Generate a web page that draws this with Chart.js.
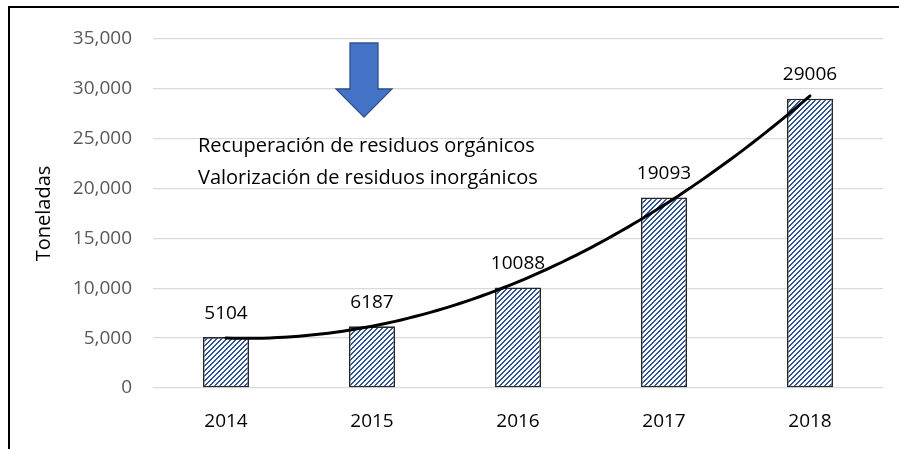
<!DOCTYPE html>
<html>
<head>
<meta charset="utf-8">
<script src="https://cdn.jsdelivr.net/npm/chart.js@4.4.1/dist/chart.umd.min.js"></script>
<style>
  body { margin: 0; background: #fff; }
  canvas { display: block; }
</style>
</head>
<body>
<canvas id="myChart" width="899" height="449"></canvas>
<script>
const years = ['2014', '2015', '2016', '2017', '2018'];
const tonnes = [5104, 6187, 10088, 19093, 29006];
const yTicks = [0, 5000, 10000, 15000, 20000, 25000, 30000, 35000];
const notes = ['Recuperación de residuos orgánicos', 'Valorización de residuos inorgánicos'];

const FONT = "'Open Sans', 'Noto Sans', sans-serif";

// "/" stripes like the Excel wide upward diagonal pattern fill
function hatch() {
  const n = 5;
  const c = document.createElement('canvas');
  c.width = n;
  c.height = n;
  const g = c.getContext('2d');
  g.fillStyle = '#fff';
  g.fillRect(0, 0, n, n);
  g.fillStyle = '#2f5597';
  for (let i = 0; i < n; i++) {
    g.fillRect(i, n - 1 - i, 1, 1);
    g.fillRect((i + 1) % n, n - 1 - i, 1, 1);
  }
  return g.createPattern(c, 'repeat');
}

// least squares quadratic through the bar values (Excel polynomial trendline)
function quadFit(ys) {
  let s = [0, 0, 0, 0, 0], t = [0, 0, 0];
  ys.forEach((y, x) => {
    for (let k = 0; k < 5; k++) s[k] += Math.pow(x, k);
    for (let k = 0; k < 3; k++) t[k] += Math.pow(x, k) * y;
  });
  const m = [[s[0], s[1], s[2], t[0]], [s[1], s[2], s[3], t[1]], [s[2], s[3], s[4], t[2]]];
  for (let i = 0; i < 3; i++) {
    for (let j = i + 1; j < 3; j++) {
      const f = m[j][i] / m[i][i];
      for (let k = i; k < 4; k++) m[j][k] -= f * m[i][k];
    }
  }
  const c = [0, 0, 0];
  for (let i = 2; i >= 0; i--) {
    let v = m[i][3];
    for (let k = i + 1; k < 3; k++) v -= m[i][k] * c[k];
    c[i] = v / m[i][i];
  }
  return c;
}

const decor = {
  id: 'decor',
  beforeDatasetsDraw(chart) {
    const { ctx } = chart;
    ctx.save();
    // text box
    ctx.fillStyle = '#fff';
    ctx.fillRect(196, 139, 366, 48);
    ctx.fillStyle = '#000';
    ctx.font = '20px ' + FONT;
    ctx.textBaseline = 'middle';
    ctx.textAlign = 'left';
    ctx.fillText(notes[0], 198, 146);
    ctx.fillText(notes[1], 198, 178);
    // arrow
    ctx.beginPath();
    ctx.moveTo(350, 43);
    ctx.lineTo(378, 43);
    ctx.lineTo(378, 89);
    ctx.lineTo(392, 89);
    ctx.lineTo(364, 117);
    ctx.lineTo(336, 89);
    ctx.lineTo(350, 89);
    ctx.closePath();
    ctx.fillStyle = '#4472c4';
    ctx.fill();
    ctx.strokeStyle = '#2f528f';
    ctx.lineWidth = 1.3;
    ctx.stroke();
    ctx.restore();
  },
  afterDatasetsDraw(chart) {
    const { ctx, scales: { x, y } } = chart;
    const c = quadFit(tonnes);
    ctx.save();
    ctx.strokeStyle = '#000';
    ctx.lineWidth = 3;
    ctx.lineCap = 'round';
    ctx.beginPath();
    for (let i = 0; i <= 80; i++) {
      const v = (tonnes.length - 1) * i / 80;
      const px = x.getPixelForValue(v);
      const py = y.getPixelForValue(c[0] + c[1] * v + c[2] * v * v);
      if (i === 0) ctx.moveTo(px, py); else ctx.lineTo(px, py);
    }
    ctx.stroke();
    // value labels
    ctx.fillStyle = '#000';
    ctx.font = '19px ' + FONT;
    ctx.textAlign = 'center';
    ctx.textBaseline = 'middle';
    chart.getDatasetMeta(0).data.forEach((bar, i) => {
      ctx.fillText(String(tonnes[i]), bar.x, bar.y - 24);
    });
    ctx.restore();
  },
  afterDraw(chart) {
    const { ctx } = chart;
    ctx.save();
    ctx.strokeStyle = '#000';
    ctx.lineWidth = 2;
    ctx.beginPath();
    ctx.moveTo(9, 449);
    ctx.lineTo(9, 7);
    ctx.lineTo(899, 7);
    ctx.stroke();
    ctx.restore();
  },
};

const config = {
  type: 'bar',
  data: {
    labels: years,
    datasets: [{
      data: tonnes,
      backgroundColor: hatch(),
      borderColor: '#262626',
      borderWidth: 1.6,
      borderSkipped: false,
      categoryPercentage: 1,
      barPercentage: 0.315,
    }],
  },
  options: {
    responsive: false,
    animation: false,
    layout: { padding: { top: 39, right: 16, left: 0, bottom: 0 } },
    plugins: {
      legend: { display: false },
      tooltip: { enabled: false },
    },
    scales: {
      x: {
        grid: { display: false },
        border: { display: false },
        ticks: { color: '#000', font: { family: FONT, size: 19 }, padding: 14 },
        afterFit(s) { s.height = 61; },
      },
      y: {
        min: 0,
        max: 35000,
        afterBuildTicks(s) { s.ticks = yTicks.map(v => ({ value: v })); },
        grid: { color: '#d9d9d9', lineWidth: 1.3, drawTicks: false },
        border: { display: false },
        ticks: {
          color: '#595959',
          font: { family: FONT, size: 19 },
          padding: 21,
          callback: v => v.toLocaleString('en-US'),
        },
        title: {
          display: true,
          text: 'Toneladas',
          color: '#000',
          font: { family: FONT, size: 20 },
          padding: { top: 32, bottom: 0 },
        },
        afterFit(s) { s.width = 153; },
      },
    },
  },
  plugins: [decor],
};

new Chart(document.getElementById('myChart'), config);
</script>
</body>
</html>
